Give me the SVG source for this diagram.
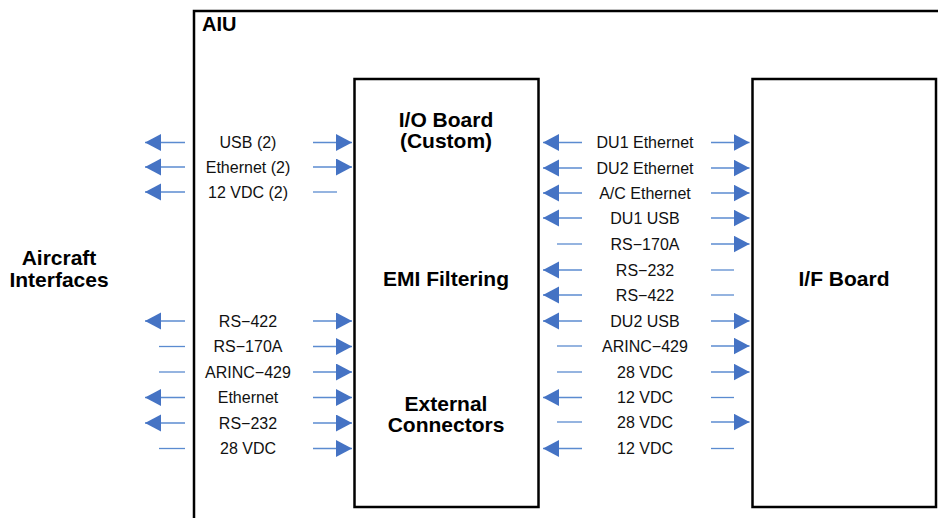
<svg xmlns="http://www.w3.org/2000/svg" width="938" height="518" viewBox="0 0 938 518">
<style>
.box{fill:none;stroke:#000;stroke-width:2.5}
.t{font-family:"Liberation Sans",Arial,sans-serif;font-size:16px;fill:#111;text-anchor:middle}
.h{font-family:"Liberation Sans",Arial,sans-serif;font-size:21px;font-weight:bold;fill:#000;text-anchor:middle}
.c line{stroke:#5b8bd0;stroke-width:1.3}
.a{marker-end:url(#ah)}
</style>
<defs>
<marker id="ah" markerUnits="userSpaceOnUse" markerWidth="17" markerHeight="18" refX="16" refY="8.5" orient="auto">
<path d="M0,0 L16,8.5 L0,17 z" fill="#4573c4"/>
</marker>
</defs>
<rect width="938" height="518" fill="#fff"/>
<g id="aiu">
<rect class="box" x="194" y="11" width="800" height="600"/>
<text class="h" x="202" y="31" style="text-anchor:start;font-size:20px">AIU</text>
</g>
<g id="aircraft">
<text class="h" x="59" y="265">Aircraft</text>
<text class="h" x="59" y="286.5">Interfaces</text>
</g>
<g id="io-board">
<rect class="box" x="354.5" y="79" width="184" height="428"/>
<text class="h" x="446" y="126.5">I/O Board</text>
<text class="h" x="446" y="147.5">(Custom)</text>
<text class="h" x="446" y="286">EMI Filtering</text>
<text class="h" x="446" y="410.5">External</text>
<text class="h" x="446" y="431.5">Connectors</text>
</g>
<g id="if-board">
<rect class="box" x="752.5" y="79" width="183.5" height="428"/>
<text class="h" x="844" y="286">I/F Board</text>
</g>
<g id="connectors" class="c">
<line class="a" x1="185" y1="142.5" x2="145" y2="142.5"/><line class="a" x1="313" y1="142.5" x2="352" y2="142.5"/>
<line class="a" x1="185" y1="167" x2="145" y2="167"/><line class="a" x1="313" y1="167" x2="352" y2="167"/>
<line class="a" x1="185" y1="192" x2="145" y2="192"/><line x1="313" y1="192" x2="337" y2="192"/>
<line class="a" x1="185" y1="321" x2="145" y2="321"/><line class="a" x1="313" y1="321" x2="352" y2="321"/>
<line x1="185" y1="346.5" x2="159" y2="346.5"/><line class="a" x1="313" y1="346.5" x2="352" y2="346.5"/>
<line x1="185" y1="372" x2="159" y2="372"/><line class="a" x1="313" y1="372" x2="352" y2="372"/>
<line class="a" x1="185" y1="397.5" x2="145" y2="397.5"/><line class="a" x1="313" y1="397.5" x2="352" y2="397.5"/>
<line class="a" x1="185" y1="423" x2="145" y2="423"/><line class="a" x1="313" y1="423" x2="352" y2="423"/>
<line x1="185" y1="448.5" x2="159" y2="448.5"/><line class="a" x1="313" y1="448.5" x2="352" y2="448.5"/>
<line class="a" x1="582" y1="142.5" x2="543" y2="142.5"/><line class="a" x1="711" y1="142.5" x2="749.5" y2="142.5"/>
<line class="a" x1="582" y1="168" x2="543" y2="168"/><line class="a" x1="711" y1="168" x2="749.5" y2="168"/>
<line class="a" x1="582" y1="193" x2="543" y2="193"/><line class="a" x1="711" y1="193" x2="749.5" y2="193"/>
<line class="a" x1="582" y1="218" x2="543" y2="218"/><line class="a" x1="711" y1="218" x2="749.5" y2="218"/>
<line x1="582" y1="244" x2="557" y2="244"/><line class="a" x1="711" y1="244" x2="749.5" y2="244"/>
<line class="a" x1="582" y1="270" x2="543" y2="270"/><line x1="711" y1="270" x2="734" y2="270"/>
<line class="a" x1="582" y1="295" x2="543" y2="295"/><line x1="711" y1="295" x2="734" y2="295"/>
<line class="a" x1="582" y1="321" x2="543" y2="321"/><line class="a" x1="711" y1="321" x2="749.5" y2="321"/>
<line x1="582" y1="346" x2="557" y2="346"/><line class="a" x1="711" y1="346" x2="749.5" y2="346"/>
<line x1="582" y1="372" x2="557" y2="372"/><line class="a" x1="711" y1="372" x2="749.5" y2="372"/>
<line class="a" x1="582" y1="397.5" x2="543" y2="397.5"/><line x1="711" y1="397.5" x2="734" y2="397.5"/>
<line x1="582" y1="422" x2="557" y2="422"/><line class="a" x1="711" y1="422" x2="749.5" y2="422"/>
<line class="a" x1="582" y1="448.5" x2="543" y2="448.5"/><line x1="711" y1="448.5" x2="734" y2="448.5"/>
</g>
<g id="labels">
<text class="t" x="248" y="148.2">USB (2)</text>
<text class="t" x="248" y="172.7">Ethernet (2)</text>
<text class="t" x="248" y="197.7">12 VDC (2)</text>
<text class="t" x="248" y="326.7">RS−422</text>
<text class="t" x="248" y="352.2">RS−170A</text>
<text class="t" x="248" y="377.7">ARINC−429</text>
<text class="t" x="248" y="403.2">Ethernet</text>
<text class="t" x="248" y="428.7">RS−232</text>
<text class="t" x="248" y="454.2">28 VDC</text>
<text class="t" x="645" y="148.2">DU1 Ethernet</text>
<text class="t" x="645" y="173.7">DU2 Ethernet</text>
<text class="t" x="645" y="198.7">A/C Ethernet</text>
<text class="t" x="645" y="223.7">DU1 USB</text>
<text class="t" x="645" y="249.7">RS−170A</text>
<text class="t" x="645" y="275.7">RS−232</text>
<text class="t" x="645" y="300.7">RS−422</text>
<text class="t" x="645" y="326.7">DU2 USB</text>
<text class="t" x="645" y="351.7">ARINC−429</text>
<text class="t" x="645" y="377.7">28 VDC</text>
<text class="t" x="645" y="403.2">12 VDC</text>
<text class="t" x="645" y="427.7">28 VDC</text>
<text class="t" x="645" y="454.2">12 VDC</text>
</g>
</svg>
